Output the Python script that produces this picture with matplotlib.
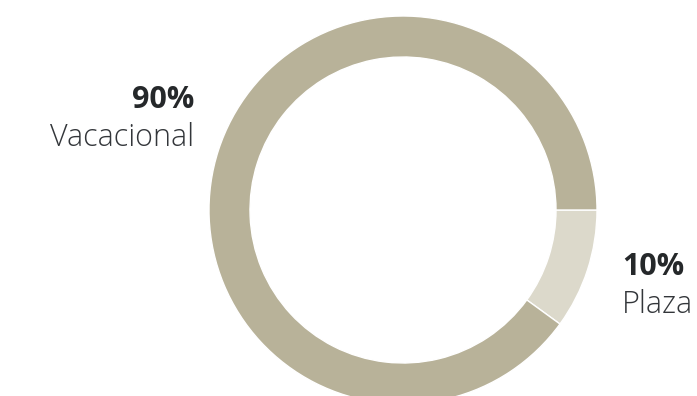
import matplotlib.pyplot as plt

labels = ["Plaza", "Vacacional"]
shares = [10, 90]
colors = ["#dcd9cb", "#b8b299"]

W, H = 697, 396
fig = plt.figure(figsize=(W / 100, H / 100), dpi=100)
ax = fig.add_axes([0, 0, 1, 1])

cx, cy, r = 403, H - 210, 194
ax.pie(shares, colors=colors, startangle=0, counterclock=False,
       center=(cx, cy), radius=r, frame=True,
       wedgeprops=dict(width=41, edgecolor="white", linewidth=1))
ax.set_xlim(0, W)
ax.set_ylim(0, H)
ax.set_aspect("equal")
ax.axis("off")

font = "Open Sans"
dark = "#25282a"
light = "#33363a"
# label blocks: bold percentage over the category name
ax.text(194, H - 108, f"{shares[1]}%", ha="right", va="baseline",
        fontsize=22, fontweight="bold", color=dark, family=font)
ax.text(194, H - 146, labels[1], ha="right", va="baseline",
        fontsize=22, fontweight="light", color=light, family=font)
ax.text(622, H - 275, f"{shares[0]}%", ha="left", va="baseline",
        fontsize=22, fontweight="bold", color=dark, family=font)
ax.text(622, H - 313, labels[0], ha="left", va="baseline",
        fontsize=22, fontweight="light", color=light, family=font)

fig.savefig("out.png", dpi=100)
